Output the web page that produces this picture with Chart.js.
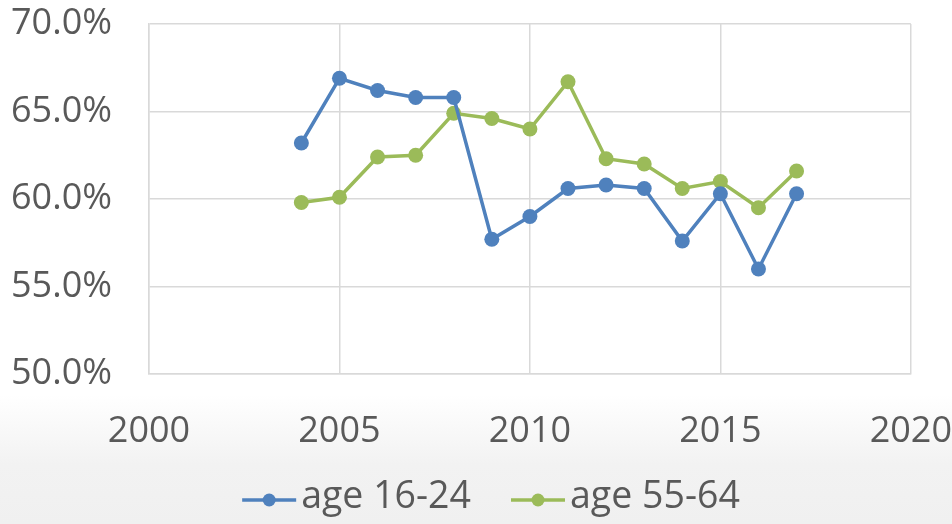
<!DOCTYPE html>
<html>
<head>
<meta charset="utf-8">
<script src="https://cdn.jsdelivr.net/npm/chart.js@4.4.1/dist/chart.umd.min.js"></script>
<style>
  html, body { margin: 0; padding: 0; background: #fff; }
  #wrap { width: 952px; height: 524px; }
</style>
</head>
<body>
<div id="wrap"><canvas id="chart" width="952" height="524"></canvas></div>
<script>
// data
const years = [2004, 2005, 2006, 2007, 2008, 2009, 2010, 2011, 2012, 2013, 2014, 2015, 2016, 2017];
const age1624 = [63.2, 66.9, 66.2, 65.8, 65.8, 57.7, 59.0, 60.6, 60.8, 60.6, 57.6, 60.3, 56.0, 60.3];
const age5564 = [59.8, 60.1, 62.4, 62.5, 64.9, 64.6, 64.0, 66.7, 62.3, 62.0, 60.6, 61.0, 59.5, 61.6];
const seriesNames = ['age 16-24', 'age 55-64'];
const seriesColors = ['#4F81BD', '#9BBB59'];

const FONT = '"Open Sans", "Noto Sans", sans-serif';
const TEXT = '#595959';
const GRID = '#d9d9d9';

function toPoints(vals) {
    return years.map((yr, i) => ({ x: yr, y: vals[i] }));
}

// white -> light grey wash at the bottom, like the original
const bgPlugin = {
    id: 'bg',
    beforeDraw(chart) {
        const c = chart.ctx;
        const g = c.createLinearGradient(0, 0, 0, chart.height);
        g.addColorStop(0, '#ffffff');
        g.addColorStop(395 / 524, '#ffffff');
        g.addColorStop(465 / 524, '#f2f2f2');
        g.addColorStop(1, '#f0f0f0');
        c.save();
        c.fillStyle = g;
        c.fillRect(0, 0, chart.width, chart.height);
        c.restore();
    }
};

// legend with a line + marker swatch, as in Excel
const lineLegend = {
    id: 'lineLegend',
    afterDraw(chart) {
        const c = chart.ctx;
        const sets = chart.data.datasets;
        const sw = 54, gap = 5, between = 40, y = 500;
        c.save();
        c.font = '37.5px ' + FONT;
        c.textBaseline = 'middle';
        const widths = sets.map(d => c.measureText(d.label).width);
        let total = 0;
        widths.forEach(w => total += sw + gap + w);
        total += between * (sets.length - 1);
        let x = 491 - total / 2;
        sets.forEach((d, i) => {
            c.strokeStyle = d.borderColor;
            c.lineWidth = 3.5;
            c.beginPath();
            c.moveTo(x, y);
            c.lineTo(x + sw, y);
            c.stroke();
            c.fillStyle = d.borderColor;
            c.beginPath();
            c.arc(x + sw / 2, y, 6.5, 0, Math.PI * 2);
            c.fill();
            c.fillStyle = TEXT;
            c.fillText(d.label, x + sw + gap, y - 3);
            x += sw + gap + widths[i] + between;
        });
        c.restore();
    }
};

const ctx = document.getElementById('chart').getContext('2d');
new Chart(ctx, {
    type: 'line',
    data: {
        datasets: [age1624, age5564].map((vals, i) => ({
            label: seriesNames[i],
            data: toPoints(vals),
            borderColor: seriesColors[i],
            backgroundColor: seriesColors[i],
            borderWidth: 3.5,
            pointRadius: 7.5,
            pointBorderWidth: 0,
            pointHoverRadius: 7.5,
            tension: 0
        }))
    },
    options: {
        responsive: false,
        devicePixelRatio: 1,
        animation: false,
        layout: { padding: { left: 11, top: 24, right: 0, bottom: 65 } },
        plugins: {
            legend: { display: false },
            tooltip: { enabled: false }
        },
        scales: {
            x: {
                type: 'linear',
                min: 2000,
                max: 2020,
                ticks: {
                    stepSize: 5,
                    color: TEXT,
                    font: { family: FONT, size: 36, lineHeight: 3.2 },
                    padding: 0,
                    maxRotation: 0,
                    callback: v => String(v)
                },
                grid: { color: GRID, lineWidth: 1.5, drawTicks: false },
                border: { color: GRID, width: 1.5 },
                afterFit(scale) { scale.height = 85; }
            },
            y: {
                min: 50,
                max: 70,
                ticks: {
                    stepSize: 5,
                    color: TEXT,
                    font: { family: FONT, size: 36 },
                    padding: 0,
                    crossAlign: 'far',
                    callback: v => v.toFixed(1) + '%'
                },
                grid: { color: GRID, lineWidth: 1.5, drawTicks: false },
                border: { color: GRID, width: 1.5 },
                afterFit(scale) { scale.width = 138; }
            }
        }
    },
    plugins: [bgPlugin, lineLegend]
});
</script>
</body>
</html>
